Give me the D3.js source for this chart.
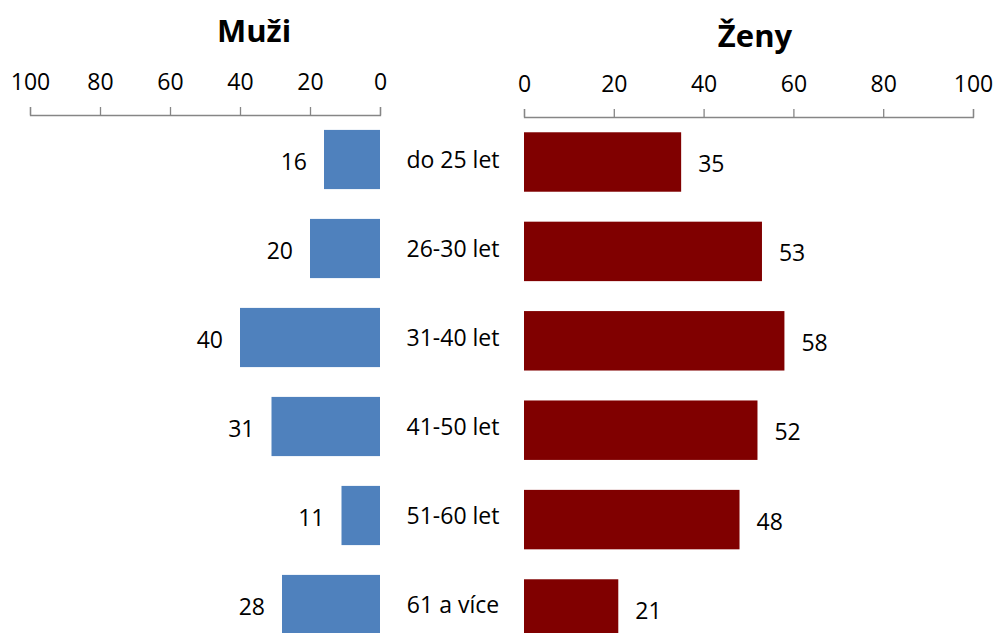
<!DOCTYPE html>
<html>
<head>
<meta charset="utf-8">
<script src="https://cdn.jsdelivr.net/npm/d3@7"></script>
<style>
  body { margin: 0; background: #fff; }
  svg text { font-family: "Open Sans", sans-serif; fill: #000; }
  .axis path, .axis line { stroke: #868686; stroke-width: 1.3; }
  .axis text { font-size: 23px; }
</style>
</head>
<body>
<div id="chart"></div>
<script>
// age groups and values (percent)
const categories = ["do 25 let", "26-30 let", "31-40 let", "41-50 let", "51-60 let", "61 a více"];
const muzi = [16, 20, 40, 31, 11, 28];
const zeny = [35, 53, 58, 52, 48, 21];
const ticks = [0, 20, 40, 60, 80, 100];

const width = 996, height = 633;

let svg = d3.select("#chart")
    .append("svg")
    .attr("width", width)
    .attr("height", height);

// Build X scales: left one runs backwards
let xLeft = d3.scaleLinear().domain([0, 100]).range([380, 30]);
let xRight = d3.scaleLinear().domain([0, 100]).range([524, 973]);

// Y scales, right panel sits a little lower
let yLeft = d3.scaleBand().domain(categories).range([115, 649])
    .paddingInner(0.335).paddingOuter(0.1675);
let yRight = d3.scaleBand().domain(categories).range([117.3, 653.7])
    .paddingInner(0.335).paddingOuter(0.1675);

// axes on top
svg.append("g")
    .attr("class", "axis")
    .attr("transform", "translate(0,115)")
    .call(d3.axisTop(xLeft).tickValues(ticks).tickSize(8).tickPadding(17).tickSizeOuter(8));

svg.append("g")
    .attr("class", "axis")
    .attr("transform", "translate(0,117)")
    .call(d3.axisTop(xRight).tickValues(ticks).tickSize(8).tickPadding(17).tickSizeOuter(8));

// titles
svg.append("text")
    .attr("x", 254).attr("y", 42)
    .attr("text-anchor", "middle")
    .style("font-size", "31px").style("font-weight", "bold")
    .text("Muži");

svg.append("text")
    .attr("x", 755).attr("y", 47)
    .attr("text-anchor", "middle")
    .style("font-size", "31px").style("font-weight", "bold")
    .text("Ženy");

// bars - men
svg.selectAll(".barL")
    .data(muzi)
    .enter()
    .append("rect")
    .attr("class", "barL")
    .attr("x", d => xLeft(d))
    .attr("y", (d, i) => yLeft(categories[i]))
    .attr("width", d => xLeft(0) - xLeft(d))
    .attr("height", yLeft.bandwidth())
    .style("fill", "#4f81bd");

svg.selectAll(".lblL")
    .data(muzi)
    .enter()
    .append("text")
    .attr("x", d => xLeft(d) - 17)
    .attr("y", (d, i) => yLeft(categories[i]) + yLeft.bandwidth() / 2 + 2)
    .attr("dy", "0.35em")
    .attr("text-anchor", "end")
    .style("font-size", "23px")
    .text(d => d);

// bars - women
svg.selectAll(".barR")
    .data(zeny)
    .enter()
    .append("rect")
    .attr("class", "barR")
    .attr("x", xRight(0))
    .attr("y", (d, i) => yRight(categories[i]))
    .attr("width", d => xRight(d) - xRight(0))
    .attr("height", yRight.bandwidth())
    .style("fill", "#800000");

svg.selectAll(".lblR")
    .data(zeny)
    .enter()
    .append("text")
    .attr("x", d => xRight(d) + 17)
    .attr("y", (d, i) => yRight(categories[i]) + yRight.bandwidth() / 2 + 2)
    .attr("dy", "0.35em")
    .attr("text-anchor", "start")
    .style("font-size", "23px")
    .text(d => d);

// category labels in the middle
svg.selectAll(".cat")
    .data(categories)
    .enter()
    .append("text")
    .attr("x", 453)
    .attr("y", d => yLeft(d) + yLeft.bandwidth() / 2)
    .attr("dy", "0.35em")
    .attr("text-anchor", "middle")
    .style("font-size", "23px")
    .text(d => d);
</script>
</body>
</html>
